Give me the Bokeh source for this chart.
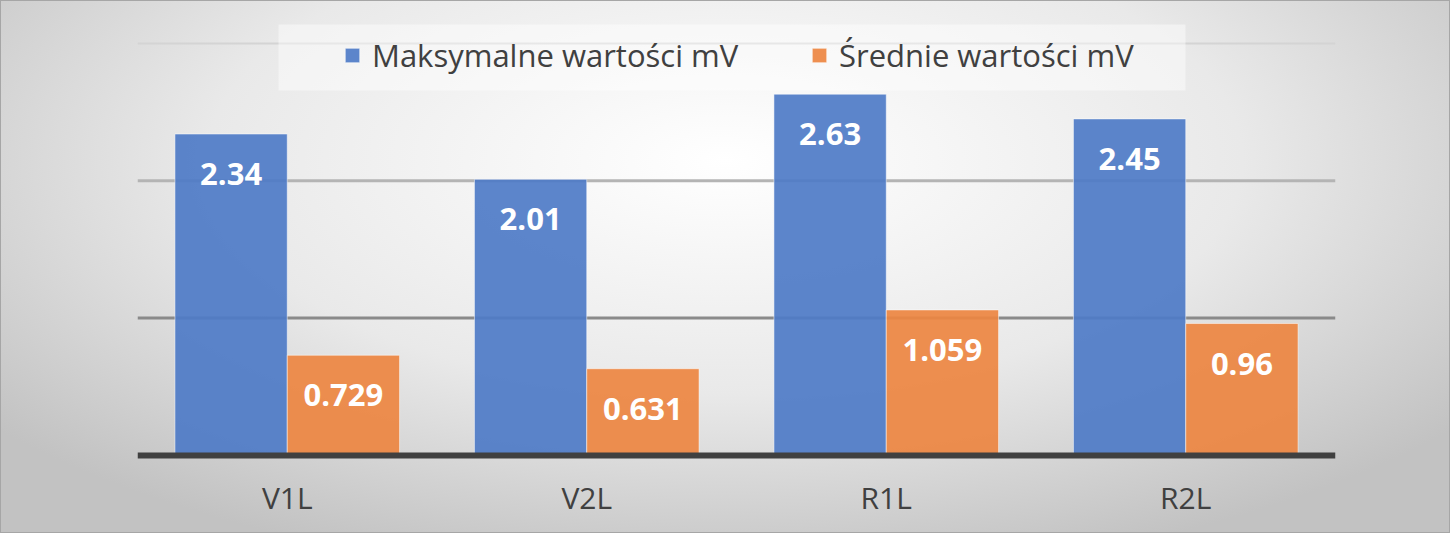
from bokeh.plotting import figure
from bokeh.models import (ColumnDataSource, FactorRange, Span, Legend, LegendItem,
                          BoxAnnotation)
from bokeh.transform import dodge
from bokeh.core.properties import value
from bokeh.embed import file_html
from bokeh.resources import INLINE

categories = ["V1L", "V2L", "R1L", "R2L"]
max_values = [2.34, 2.01, 2.63, 2.45]
mean_values = [0.729, 0.631, 1.059, 0.96]
series_names = ["Maksymalne wartości mV", "Średnie wartości mV"]
y_ticks = [0, 1, 2, 3]

BLUE = "#4e7bc7"
ORANGE = "#ed8541"
FONT = "Open Sans"
GRID_COLORS = ["#8a8a8a", "#b4b4b4", "#d4d4d4"]

src = ColumnDataSource(dict(
    cat=categories,
    maxv=max_values,
    meanv=mean_values,
    maxl=[str(v) for v in max_values],
    meanl=[str(v) for v in mean_values],
))

p = figure(
    x_range=FactorRange(*categories, range_padding=0),
    y_range=(-0.03, 3.2467),
    width=1450, height=533,
    output_backend="svg", toolbar_location=None,
    min_border_left=136, min_border_right=116,
    min_border_top=8, min_border_bottom=75,
)
p.styles = {
    "background": "radial-gradient(ellipse 65% 80% at 50% 30%, #ffffff 0%, #e9e9e9 55%, #c2c2c2 100%)",
    "border": "1px solid #a6a6a6",
}
p.border_fill_alpha = 0
p.background_fill_alpha = 0
p.outline_line_color = None
p.xgrid.grid_line_color = None
p.ygrid.grid_line_color = None
p.yaxis.visible = False

# gridlines (drawn beneath slightly translucent bars)
for t, c in zip(y_ticks[1:], GRID_COLORS):
    p.add_layout(Span(location=t, dimension="width", line_color=c,
                      line_width=3 if t < 3 else 2, level="underlay"))

# legend background box
p.add_layout(BoxAnnotation(left=141, right=1048, top=435, bottom=369,
                           left_units="screen", right_units="screen",
                           top_units="screen", bottom_units="screen",
                           fill_color="white", fill_alpha=0.45, line_color=None,
                           level="underlay"))

bw = 0.375
r1 = p.vbar(x=dodge("cat", -bw / 2, range=p.x_range), top="maxv", width=bw, source=src,
            fill_color=BLUE, fill_alpha=0.92, line_color="white", line_alpha=0.5, line_width=1)
r2 = p.vbar(x=dodge("cat", bw / 2, range=p.x_range), top="meanv", width=bw, source=src,
            fill_color=ORANGE, fill_alpha=0.92, line_color="white", line_alpha=0.5, line_width=1)

p.text(x=dodge("cat", -bw / 2, range=p.x_range), y="maxv", text="maxl", source=src,
       text_font=value(FONT), text_font_style="bold", text_font_size="31px",
       text_color="white", text_align="center", text_baseline="middle", y_offset=40)
p.text(x=dodge("cat", bw / 2, range=p.x_range), y="meanv", text="meanl", source=src,
       text_font=value(FONT), text_font_style="bold", text_font_size="31px",
       text_color="white", text_align="center", text_baseline="middle", y_offset=40)

p.add_layout(Span(location=0, dimension="width", line_color="#404040", line_width=6,
                  level="overlay"))

p.xaxis.axis_line_color = None
p.xaxis.major_tick_line_color = None
p.xaxis.minor_tick_line_color = None
p.xaxis.major_label_text_font = FONT
p.xaxis.major_label_text_font_size = "30px"
p.xaxis.major_label_text_color = "#404040"
p.xaxis.major_label_standoff = 11

legend = Legend(
    items=[LegendItem(label=series_names[0], renderers=[r1]),
           LegendItem(label=series_names[1], renderers=[r2])],
    orientation="horizontal",
    location=(206, 383),
    label_text_font=FONT, label_text_font_size="31px", label_text_color="#404040",
    glyph_width=18, glyph_height=18, label_standoff=11, label_width=372,
    spacing=66, padding=0, margin=0,
    background_fill_alpha=0, border_line_color=None,
)
p.add_layout(legend, "center")

open("out.html", "w").write(file_html(p, INLINE))
